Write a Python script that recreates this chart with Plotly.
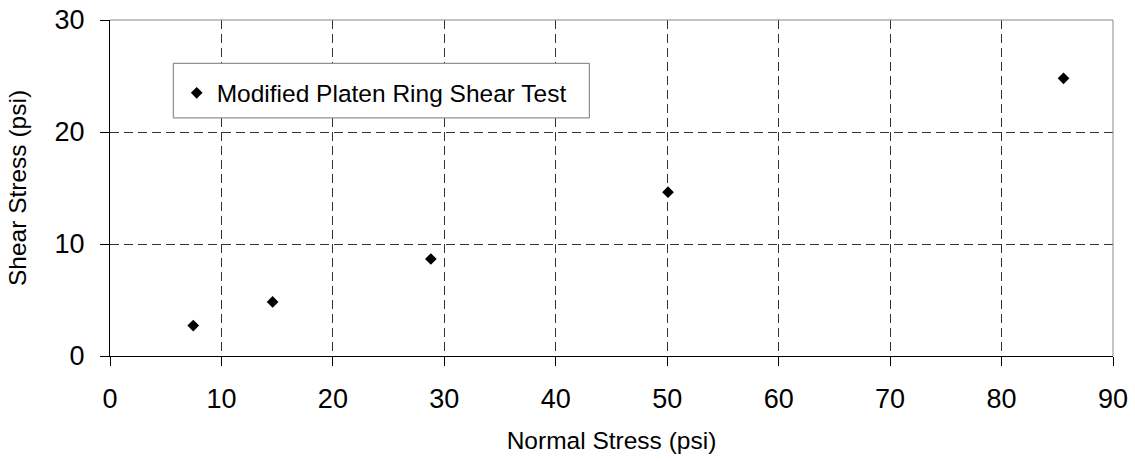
import plotly.graph_objects as go

normal_stress = [7.47, 14.59, 28.79, 50.07, 85.56]
shear_stress = [2.72, 4.83, 8.66, 14.63, 24.79]
series_name = "Modified Platen Ring Shear Test"
x_ticks = [0, 10, 20, 30, 40, 50, 60, 70, 80, 90]
y_ticks = [0, 10, 20, 30]

FONT = "Liberation Sans, Arial, sans-serif"

fig = go.Figure()
fig.add_trace(go.Scatter(
    x=normal_stress, y=shear_stress, mode="markers", name=series_name,
    marker=dict(symbol="diamond", size=9, color="black"),
    showlegend=True,
))

axis_common = dict(
    showline=True, linecolor="black", linewidth=1,
    ticks="outside", ticklen=9, tickcolor="black", tickwidth=1,
    showgrid=True, gridcolor="#333333", gridwidth=1, griddash="9px,5px",
    zeroline=False, tickfont=dict(family=FONT, size=27, color="black"),
    title_font=dict(family=FONT, size=24.5, color="black"),
)

fig.update_xaxes(range=[0, 90], tickvals=x_ticks, title_text="Normal Stress (psi)",
                 title_standoff=18, ticklabelstandoff=10, **axis_common)
fig.update_yaxes(range=[0, 30], tickvals=y_ticks, title_text="Shear Stress (psi)",
                 title_standoff=20, ticklabelstandoff=10, **axis_common)

fig.add_shape(type="path", xref="paper", yref="paper", path="M 0,1 L 1,1 L 1,0",
              line=dict(color="#888888", width=1), layer="above")
fig.add_shape(type="rect", xref="paper", yref="paper",
              x0=0.0631, x1=0.4779, y0=0.7086, y1=0.8711,
              line=dict(color="#777777", width=1), fillcolor="white", layer="above")

fig.update_layout(
    width=1135, height=461,
    margin=dict(l=110, r=22, t=20, b=104.5, autoexpand=False),
    paper_bgcolor="white", plot_bgcolor="white",
    font=dict(family=FONT, color="black"),
    legend=dict(x=0.0665, y=0.85, xanchor="left", yanchor="top",
                bgcolor="rgba(0,0,0,0)", borderwidth=0,
                font=dict(family=FONT, size=24.5, color="black")),
)

fig.write_html("out.html")
